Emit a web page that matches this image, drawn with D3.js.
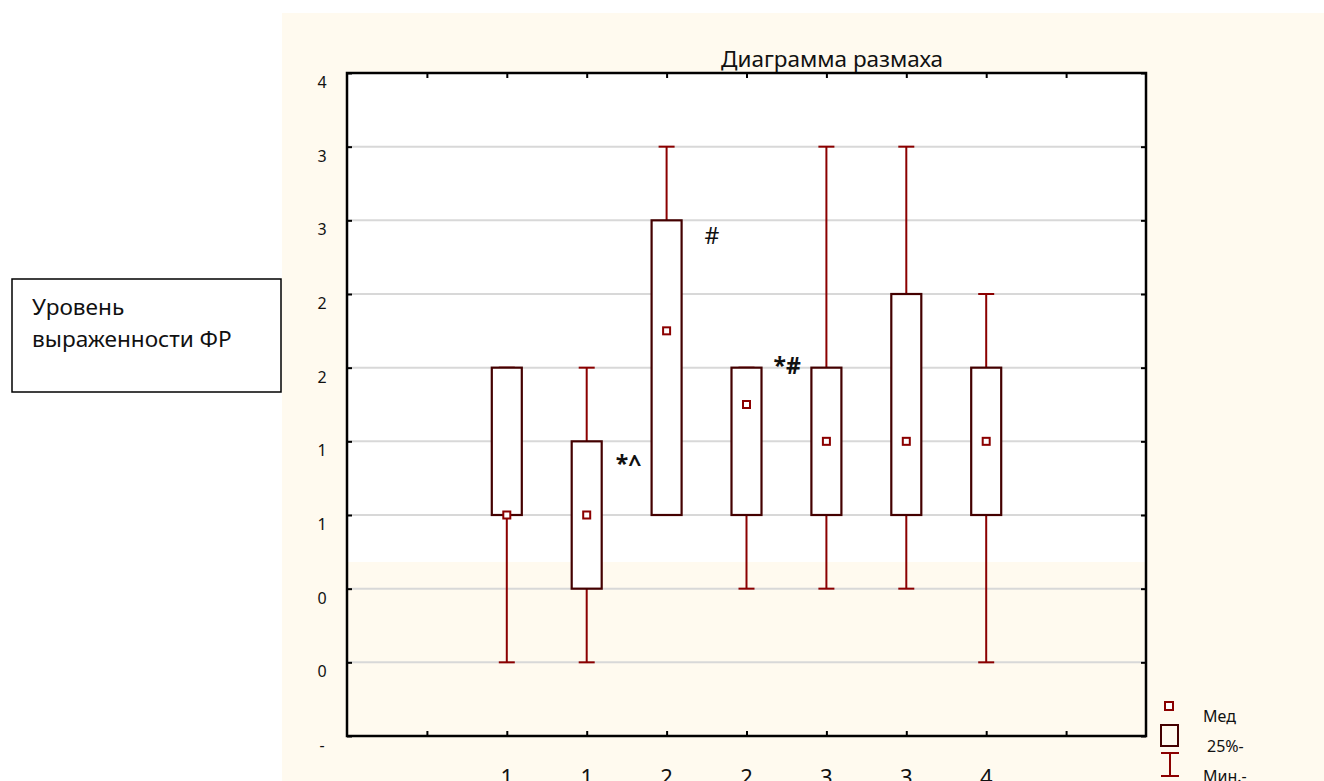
<!doctype html>
<html lang="ru">
<head>
  <meta charset="utf-8">
  <title>Диаграмма размаха</title>
  <script src="https://cdnjs.cloudflare.com/ajax/libs/d3/7.8.5/d3.min.js"></script>
  <style>
    body { margin: 0; background: #fff; }
    text { font-family: "Noto Sans", sans-serif; fill: #111; }
  </style>
</head>
<body>
<svg width="1324" height="781" id="svg"></svg>
<script>
// groups along x (slot positions 2..8 on a 0..10 axis)
var groups    = ["1", "1", "2", "2", "3", "3", "4"];
var positions = [2, 3, 4, 5, 6, 7, 8];
var mins      = [0.0, 0.0, 1.0, 0.5, 0.5, 0.5, 0.0];
var q1        = [1.0, 0.5, 1.0, 1.0, 1.0, 1.0, 1.0];
var medians   = [1.0, 1.0, 2.25, 1.75, 1.5, 1.5, 1.5];
var q3        = [2.0, 1.5, 3.0, 2.0, 2.0, 2.5, 2.0];
var maxs      = [2.0, 2.0, 3.5, 2.0, 3.5, 3.5, 2.5];

var yTicks      = [4, 3.5, 3, 2.5, 2, 1.5, 1, 0.5, 0, -0.5];
var yTickLabels = ["4", "3", "3", "2", "2", "1", "1", "0", "0", "-"];
var xTicks      = [1, 2, 3, 4, 5, 6, 7, 8, 9];

var marks  = ["*^", "#", "*#"];
var markAt = [1, 2, 3];          // index of group the mark sits next to
var markY  = [1.35, 2.9, 2.02];

(function() {
var svg = d3.select('#svg');
var pL = 347, pR = 1146, pT = 73, pB = 736;

var x = d3.scaleLinear().domain([0, 10]).range([pL, pR]);
var y = d3.scaleLinear().domain([-0.5, 4]).range([pB, pT]);

// backgrounds
svg.append('rect').attr('x', 282).attr('y', 13).attr('width', 1324 - 282).attr('height', 781 - 13)
  .attr('fill', '#fffaef');
svg.append('rect').attr('x', pL).attr('y', pT).attr('width', pR - pL).attr('height', 562 - pT)
  .attr('fill', '#ffffff');

// gridlines
svg.append('g').selectAll('line')
  .data(yTicks.filter(function(d) { return d > -0.5 && d < 4; }))
  .enter().append('line')
  .attr('x1', pL).attr('x2', pR)
  .attr('y1', function(d) { return y(d); }).attr('y2', function(d) { return y(d); })
  .attr('stroke', '#d8d8d8').attr('stroke-width', 2);

// axes with inward ticks
var yAxisL = d3.axisLeft(y).tickValues(yTicks).tickSize(-5).tickFormat('');
var yAxisR = d3.axisRight(y).tickValues(yTicks).tickSize(-5).tickFormat('');
var xAxisT = d3.axisTop(x).tickValues(xTicks).tickSize(-5).tickFormat('');
var xAxisB = d3.axisBottom(x).tickValues(xTicks).tickSize(-5).tickFormat('');
[[yAxisL, 'translate(' + pL + ',0)'], [yAxisR, 'translate(' + pR + ',0)'],
 [xAxisT, 'translate(0,' + pT + ')'], [xAxisB, 'translate(0,' + pB + ')']].forEach(function(a) {
  var g = svg.append('g').attr('transform', a[1]).call(a[0]);
  g.select('.domain').remove();
  g.selectAll('line').attr('stroke', '#000').attr('stroke-width', 2);
});
svg.append('rect').attr('x', pL).attr('y', pT).attr('width', pR - pL).attr('height', pB - pT)
  .attr('fill', 'none').attr('stroke', '#000').attr('stroke-width', 2.5);

// y tick labels
svg.append('g').selectAll('text').data(yTicks).enter().append('text')
  .attr('x', 322).attr('y', function(d) { return y(d) + 15; })
  .attr('text-anchor', 'middle').attr('font-size', 16)
  .text(function(d, i) { return yTickLabels[i]; });

// x labels (cut by the bottom edge, as in the source image)
svg.append('g').selectAll('text').data(positions).enter().append('text')
  .attr('x', function(d) { return x(d); }).attr('y', 785)
  .attr('text-anchor', 'middle').attr('font-size', 22)
  .text(function(d, i) { return groups[i]; });

// boxes
var whisk = '#8b0000', boxc = '#440000';
var bw = 30, cw = 16;
var g = svg.append('g').selectAll('g').data(positions).enter().append('g');
g.append('line')
  .attr('x1', function(d) { return x(d); }).attr('x2', function(d) { return x(d); })
  .attr('y1', function(d, i) { return y(maxs[i]); }).attr('y2', function(d, i) { return y(mins[i]); })
  .attr('stroke', whisk).attr('stroke-width', 2);
g.append('line')
  .attr('x1', function(d) { return x(d) - cw / 2; }).attr('x2', function(d) { return x(d) + cw / 2; })
  .attr('y1', function(d, i) { return y(maxs[i]); }).attr('y2', function(d, i) { return y(maxs[i]); })
  .attr('stroke', whisk).attr('stroke-width', 2);
g.append('line')
  .attr('x1', function(d) { return x(d) - cw / 2; }).attr('x2', function(d) { return x(d) + cw / 2; })
  .attr('y1', function(d, i) { return y(mins[i]); }).attr('y2', function(d, i) { return y(mins[i]); })
  .attr('stroke', whisk).attr('stroke-width', 2);
g.append('rect')
  .attr('x', function(d) { return x(d) - bw / 2; }).attr('width', bw)
  .attr('y', function(d, i) { return y(q3[i]); })
  .attr('height', function(d, i) { return y(q1[i]) - y(q3[i]); })
  .attr('fill', '#fff').attr('stroke', boxc).attr('stroke-width', 2.2);
g.append('rect')
  .attr('x', function(d) { return x(d) - 3.5; }).attr('width', 7)
  .attr('y', function(d, i) { return y(medians[i]) - 3.5; }).attr('height', 7)
  .attr('fill', '#fff').attr('stroke', whisk).attr('stroke-width', 2);

// significance marks
var markDx = [29, 38, 27];
svg.append('g').selectAll('text').data(marks).enter().append('text')
  .attr('x', function(d, i) { return x(positions[markAt[i]]) + markDx[i]; })
  .attr('y', function(d, i) { return y(markY[i]) + 9; })
  .attr('font-size', 23).attr('font-weight', function(d) { return d === '#' ? 'normal' : 'bold'; })
  .text(function(d) { return d; });

// title
svg.append('text').attr('x', 832).attr('y', 67).attr('text-anchor', 'middle')
  .attr('font-size', 22.5).text('Диаграмма размаха');

// axis name box
svg.append('rect').attr('x', 12).attr('y', 279).attr('width', 269).attr('height', 113)
  .attr('fill', '#fff').attr('stroke', '#000').attr('stroke-width', 1.5);
svg.append('text').attr('x', 32).attr('y', 315).attr('font-size', 22.6).text('Уровень');
svg.append('text').attr('x', 32).attr('y', 347).attr('font-size', 22.6).text('выраженности ФР');

// legend
var lg = svg.append('g');
lg.append('rect').attr('x', 1165).attr('y', 702).attr('width', 8).attr('height', 8)
  .attr('fill', '#fff').attr('stroke', whisk).attr('stroke-width', 2);
lg.append('text').attr('x', 1203).attr('y', 722).attr('font-size', 16).text('Мед');
lg.append('rect').attr('x', 1161).attr('y', 725).attr('width', 17).attr('height', 21)
  .attr('fill', 'none').attr('stroke', boxc).attr('stroke-width', 2);
lg.append('text').attr('x', 1207).attr('y', 752).attr('font-size', 16).text('25%-');
lg.append('line').attr('x1', 1170).attr('x2', 1170).attr('y1', 753).attr('y2', 776)
  .attr('stroke', whisk).attr('stroke-width', 2);
lg.append('line').attr('x1', 1161).attr('x2', 1179).attr('y1', 753).attr('y2', 753)
  .attr('stroke', whisk).attr('stroke-width', 2);
lg.append('line').attr('x1', 1161).attr('x2', 1179).attr('y1', 776).attr('y2', 776)
  .attr('stroke', whisk).attr('stroke-width', 2);
lg.append('text').attr('x', 1203).attr('y', 782).attr('font-size', 16).text('Мин.-');
})();
</script>
</body>
</html>
